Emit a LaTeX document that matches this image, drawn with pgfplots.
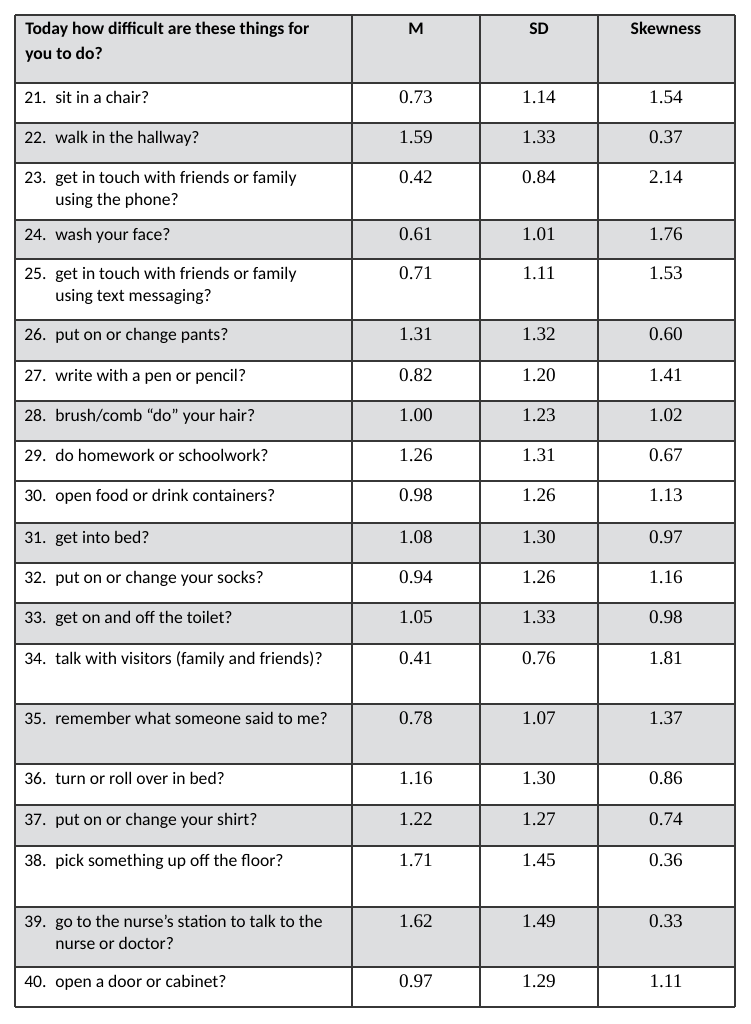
\documentclass[border=0pt]{standalone}
\usepackage{fontspec}
\setmainfont{Liberation Serif}
\newfontfamily\carlito{Carlito}
\usepackage{pgfplots}
\usepackage{pgfplotstable}
\pgfplotsset{compat=1.18}
\definecolor{rowgray}{RGB}{221,222,224}
\definecolor{rulecol}{RGB}{55,55,55}

% baseline y (pixels from top) and the three statistics
\pgfplotstableread{
y M SD Sk
103 0.73 1.14 1.54
143 1.59 1.33 0.37
183 0.42 0.84 2.14
240 0.61 1.01 1.76
279 0.71 1.11 1.53
340 1.31 1.32 0.60
381 0.82 1.20 1.41
421 1.00 1.23 1.02
461 1.26 1.31 0.67
501 0.98 1.26 1.13
543 1.08 1.30 0.97
583 0.94 1.26 1.16
623 1.05 1.33 0.98
664 0.41 0.76 1.81
724 0.78 1.07 1.37
784 1.16 1.30 0.86
825 1.22 1.27 0.74
866 1.71 1.45 0.36
927 1.62 1.49 0.33
987 0.97 1.29 1.11
}\stats

\begin{document}
\begin{tikzpicture}
\begin{axis}[
  scale only axis, width=469.375pt, height=640pt,
  xmin=0, xmax=751, ymin=0, ymax=1024, y dir=reverse,
  axis lines=none, ticks=none, clip=false,
  rowfill/.style={fill=rowgray, draw=none, mark=none},
  rule/.style={draw=rulecol, line width=0.8pt, mark=none},
  txtbase/.style={draw=none, mark=none, color=black,
    nodes near coords, point meta=explicit symbolic},
  lbl/.style={txtbase, nodes near coords align={anchor=base west},
    every node near coord/.append style={font=\carlito\fontsize{11}{13}\selectfont, inner sep=0pt, anchor=base west}},
  hdr/.style={txtbase, nodes near coords align={anchor=base west},
    every node near coord/.append style={font=\carlito\bfseries\fontsize{11}{13}\selectfont, inner sep=0pt, anchor=base west}},
  hdrc/.style={txtbase, nodes near coords align={anchor=base},
    every node near coord/.append style={font=\carlito\bfseries\fontsize{11}{13}\selectfont, inner sep=0pt, anchor=base}},
  num/.style={txtbase, nodes near coords align={anchor=base},
    every node near coord/.append style={font=\fontsize{12}{14}\selectfont, inner sep=0pt, anchor=base}},
]
% invisible frame spanning the whole page
\addplot[draw=none, mark=none] coordinates {(0,0) (751,1024)};

% shaded rows
\addplot[rowfill] coordinates {(15,15) (735,15) (735,83) (15,83)};
\addplot[rowfill] coordinates {(15,123) (735,123) (735,163) (15,163)};
\addplot[rowfill] coordinates {(15,220) (735,220) (735,259) (15,259)};
\addplot[rowfill] coordinates {(15,320) (735,320) (735,361) (15,361)};
\addplot[rowfill] coordinates {(15,401) (735,401) (735,441) (15,441)};
\addplot[rowfill] coordinates {(15,523) (735,523) (735,563) (15,563)};
\addplot[rowfill] coordinates {(15,603) (735,603) (735,644) (15,644)};
\addplot[rowfill] coordinates {(15,704) (735,704) (735,764) (15,764)};
\addplot[rowfill] coordinates {(15,805) (735,805) (735,846) (15,846)};
\addplot[rowfill] coordinates {(15,907) (735,907) (735,967) (15,967)};

% horizontal rules
\pgfplotsinvokeforeach{15,83,123,163,220,259,320,361,401,441,481,523,563,603,644,704,764,805,846,907,967,1007}{
  \addplot[rule] coordinates {(15,#1) (735,#1)};
}
% vertical rules
\pgfplotsinvokeforeach{15,352,480,598,735}{
  \addplot[rule] coordinates {(#1,15) (#1,1007)};
}

% header
\addplot[hdr] coordinates {(25,34) [Today how difficult are these things for] (25,59) [you to do?]};
\addplot[hdrc] coordinates {(416,34) [M] (539,34) [SD] (666,34) [Skewness]};

% item numbers
\addplot[lbl] coordinates {
(24,103) [21.] (24,143) [22.] (24,183) [23.] (24,240) [24.] (24,279) [25.]
(24,340) [26.] (24,381) [27.] (24,421) [28.] (24,461) [29.] (24,501) [30.]
(24,543) [31.] (24,583) [32.] (24,623) [33.] (24,664) [34.] (24,724) [35.]
(24,784) [36.] (24,825) [37.] (24,866) [38.] (24,927) [39.] (24,987) [40.]
};
% item texts
\addplot[lbl] coordinates {
(55,103) [sit in a chair?]
(55,143) [walk in the hallway?]
(55,183) [get in touch with friends or family]
(55,205) [using the phone?]
(55,240) [wash your face?]
(55,279) [get in touch with friends or family]
(55,301) [using text messaging?]
(55,340) [put on or change pants?]
(55,381) [write with a pen or pencil?]
(55,421) [brush/comb “do” your hair?]
(55,461) [do homework or schoolwork?]
(55,501) [open food or drink containers?]
(55,543) [get into bed?]
(55,583) [put on or change your socks?]
(55,623) [get on and off the toilet?]
(55,664) [talk with visitors (family and friends)?]
(55,724) [remember what someone said to me?]
(55,784) [turn or roll over in bed?]
(55,825) [put on or change your shirt?]
(55,866) [pick something up off the floor?]
(55,927) [go to the nurse’s station to talk to the]
(55,949) [nurse or doctor?]
(55,987) [open a door or cabinet?]
};

% statistics
\addplot[num] table[x expr=416, y=y, meta=M] {\stats};
\addplot[num] table[x expr=539, y=y, meta=SD] {\stats};
\addplot[num] table[x expr=666, y=y, meta=Sk] {\stats};
\end{axis}
\end{tikzpicture}
\end{document}
